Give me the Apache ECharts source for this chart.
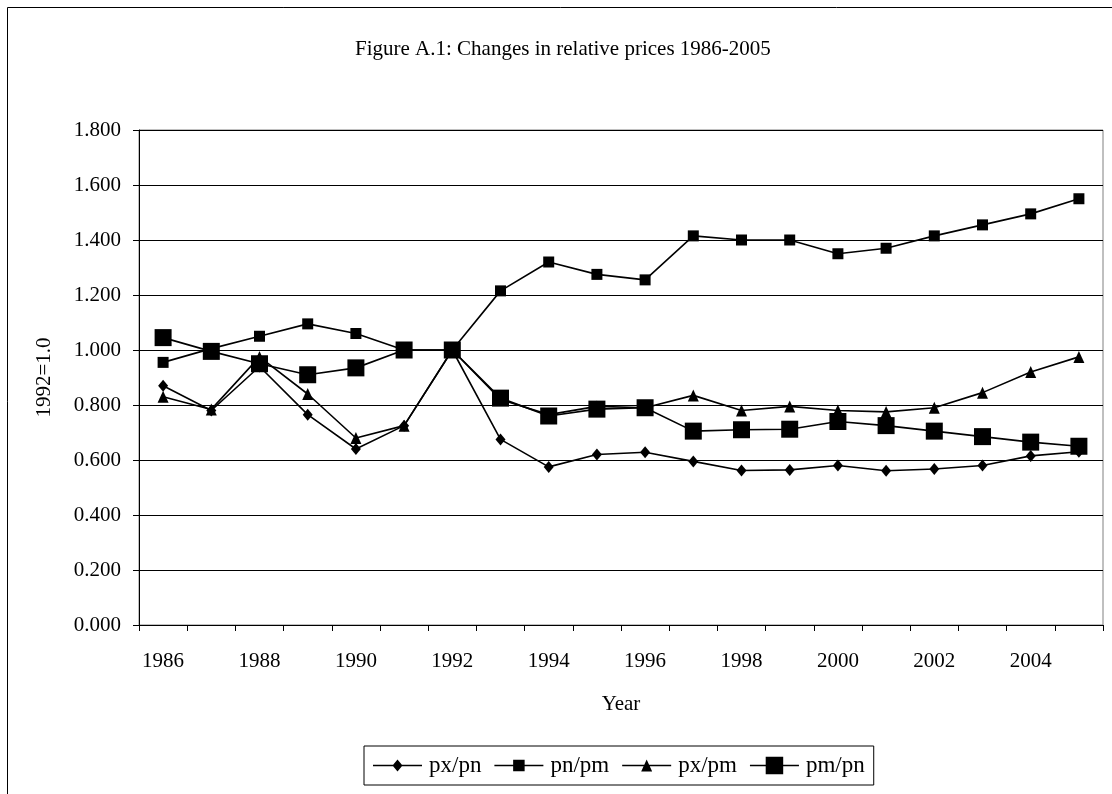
<!DOCTYPE html>
<html>
<head>
    <meta charset="utf-8">
    <title>Figure A.1</title>
    <script src="https://cdn.jsdelivr.net/npm/echarts@6/dist/echarts.min.js"></script>
    <style>
        html, body { margin: 0; padding: 0; background: #fff; }
        #main { width: 1112px; height: 794px; }
    </style>
</head>
<body>
<div id="main"></div>
<script type="text/javascript">
    // data (1992 = 1.0)
    var years = ['1986', '1987', '1988', '1989', '1990', '1991', '1992', '1993', '1994', '1995',
        '1996', '1997', '1998', '1999', '2000', '2001', '2002', '2003', '2004', '2005'];
    var pxPn = [0.87, 0.78, 0.94, 0.765, 0.64, 0.725, 1.0, 0.675, 0.575, 0.62,
        0.628, 0.595, 0.562, 0.564, 0.58, 0.561, 0.567, 0.58, 0.615, 0.63];
    var pnPm = [0.955, 1.005, 1.05, 1.095, 1.06, 1.0, 1.0, 1.215, 1.32, 1.275,
        1.255, 1.415, 1.40, 1.40, 1.35, 1.37, 1.415, 1.455, 1.495, 1.55];
    var pxPm = [0.83, 0.784, 0.975, 0.84, 0.68, 0.725, 1.0, 0.82, 0.765, 0.795,
        0.79, 0.835, 0.78, 0.795, 0.78, 0.775, 0.79, 0.845, 0.92, 0.975];
    var pmPn = [1.045, 0.995, 0.95, 0.91, 0.935, 1.0, 1.0, 0.825, 0.76, 0.785,
        0.79, 0.705, 0.71, 0.712, 0.74, 0.725, 0.705, 0.685, 0.665, 0.65];

    var font = 'Liberation Serif';

    // legend icons: line + marker, all in a 49x18 box
    var lineBar = 'M0 8.25 H49 V9.75 H0 Z M0 0 L0 0 Z M49 18 L49 18 Z ';
    var iconDiamond = 'path://' + lineBar + 'M24.5 3 L29.5 9 L24.5 15 L19.5 9 Z';
    var iconSmallSq = 'path://' + lineBar + 'M18.75 3.25 H30.25 V14.75 H18.75 Z';
    var iconTriangle = 'path://' + lineBar + 'M24.5 3 L30 15 L19 15 Z';
    var iconBigSq = 'path://' + lineBar + 'M15.75 0.25 H33.25 V17.75 H15.75 Z';

    function lineSeries(name, data, symbol, size) {
        return {
            name: name,
            type: 'line',
            data: data,
            symbol: symbol,
            symbolSize: size,
            showAllSymbol: true,
            lineStyle: {color: '#000', width: 1.6},
            itemStyle: {color: '#000', borderWidth: 0},
            emphasis: {disabled: true}
        };
    }

    var myChart = echarts.init(document.getElementById('main'));
    var option = {
        animation: false,
        backgroundColor: '#fff',
        textStyle: {fontFamily: font, color: '#000'},
        title: {
            text: 'Figure A.1: Changes in relative prices 1986-2005',
            left: 350,
            top: 34,
            textStyle: {fontFamily: font, fontSize: 21, fontWeight: 'normal', color: '#000'}
        },
        graphic: [{
            type: 'rect',
            shape: {x: 7.5, y: 7.5, width: 1200, height: 900},
            style: {fill: null, stroke: '#000', lineWidth: 1},
            silent: true
        }],
        legend: {
            left: 364,
            top: 746,
            itemWidth: 49,
            itemHeight: 18,
            itemGap: 13,
            padding: [8, 9, 8, 9],
            borderColor: '#000',
            borderWidth: 1,
            itemStyle: {borderWidth: 0},
            textStyle: {fontFamily: font, fontSize: 23, color: '#000', padding: [0, 0, 0, 2]},
            data: [
                {name: 'px/pn', icon: iconDiamond},
                {name: 'pn/pm', icon: iconSmallSq},
                {name: 'px/pm', icon: iconTriangle},
                {name: 'pm/pn', icon: iconBigSq}
            ]
        },
        grid: {
            left: 139,
            right: 9,
            top: 130,
            bottom: 169,
            show: true,
            borderColor: '#808080',
            borderWidth: 1,
            containLabel: false
        },
        xAxis: {
            type: 'category',
            data: years,
            boundaryGap: true,
            name: 'Year',
            nameLocation: 'middle',
            nameGap: 69,
            nameTextStyle: {fontFamily: font, fontSize: 21, color: '#000'},
            axisLine: {lineStyle: {color: '#000', width: 1}},
            axisTick: {show: true, interval: 0, length: 6, alignWithLabel: false, lineStyle: {color: '#000'}},
            axisLabel: {interval: 1, margin: 26, fontFamily: font, fontSize: 21, color: '#000'},
            splitLine: {show: false}
        },
        yAxis: {
            type: 'value',
            min: 0,
            max: 1.8,
            interval: 0.2,
            name: '1992=1.0',
            nameLocation: 'middle',
            nameGap: 84,
            nameRotate: 90,
            nameTextStyle: {fontFamily: font, fontSize: 21, color: '#000'},
            axisLine: {show: true, lineStyle: {color: '#000', width: 1}},
            axisTick: {show: true, length: 6, lineStyle: {color: '#000'}},
            axisLabel: {
                margin: 18,
                fontFamily: font,
                fontSize: 21,
                color: '#000',
                formatter: function (v) { return v.toFixed(3); }
            },
            splitLine: {show: true, lineStyle: {color: '#000', width: 1}}
        },
        series: [
            lineSeries('px/pn', pxPn, 'diamond', [10, 12]),
            lineSeries('pn/pm', pnPm, 'rect', 11),
            lineSeries('px/pm', pxPm, 'triangle', [11, 12]),
            lineSeries('pm/pn', pmPn, 'rect', 17)
        ]
    };
    myChart.setOption(option);
</script>
</body>
</html>
